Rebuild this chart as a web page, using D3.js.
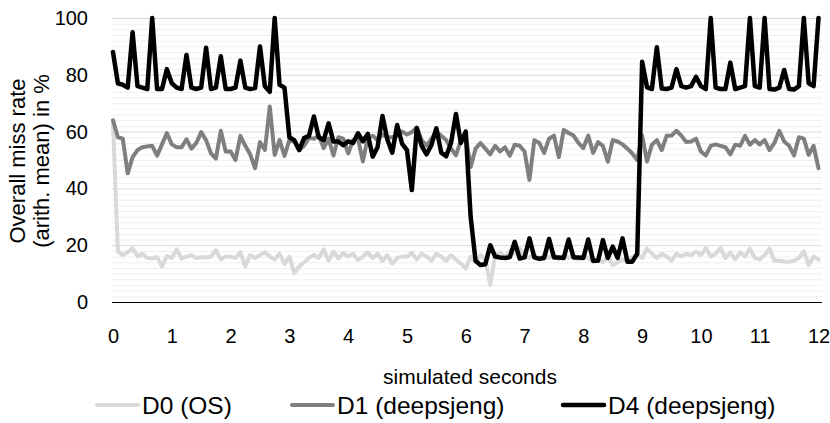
<!DOCTYPE html>
<html>
<head>
<meta charset="utf-8">
<script src="https://cdn.jsdelivr.net/npm/d3@7"></script>
<style>
  html, body { margin: 0; padding: 0; background: #ffffff; }
  svg { display: block; font-family: "Liberation Sans", Arial, Helvetica, sans-serif; }
</style>
</head>
<body>
<svg id="chart" width="830" height="423"></svg>
<script>
// ---- data ----
const sampleInterval = 1 / 12; // seconds between samples
const xTickLabels = [0, 1, 2, 3, 4, 5, 6, 7, 8, 9, 10, 11, 12];
const yTickLabels = [0, 20, 40, 60, 80, 100];
const seriesNames = ["D0 (OS)", "D1 (deepsjeng)", "D4 (deepsjeng)"];

const d0 = [63, 17.7, 16.5, 17.5, 18.9, 16, 17, 15.5, 15.3, 15.8, 12.5, 16.2, 15.5, 18.5, 15.3, 16, 16.5, 15.5, 15.8, 15.7,
  16, 18.3, 15, 16, 16, 15.5, 17.5, 12.6, 16.5, 15.5, 16.5, 17.5, 16, 15, 17, 13.4, 16, 10.1, 12.5, 14,
  15.5, 16.6, 15.5, 18.5, 14.5, 17.8, 15.3, 17.3, 16, 17, 14.8, 16, 17.5, 15.5, 17, 14.5, 16.5, 13.5, 15.5, 16,
  16, 17.3, 15, 17, 16, 14.5, 17, 16, 14.5, 16.5, 15, 13.5, 11.8, 16, 14, 16.5, 15, 6, 16.5, 17.5,
  16, 18, 17, 18.8, 16, 15.5, 17, 15, 16.5, 15.5, 17, 15, 16.5, 15.5, 16.5, 15, 16.5, 15.5, 14, 15,
  14, 16, 13, 14, 15, 14.5, 15.8, 16.5, 15.5, 18.8, 17, 15.5, 17, 16, 14.5, 17, 16, 17, 16.5, 17.8,
  16.5, 19, 16, 17, 19, 15.5, 17.5, 15, 17.5, 16, 18.8, 15.5, 15, 16.5, 18.8, 14.5, 14.5, 14.3, 14.2, 14.5,
  15.5, 17.8, 13, 16, 15];

const d1 = [64, 58, 57.5, 45.3, 51, 53.5, 54.5, 54.8, 55, 51.5, 55.5, 59.5, 55.5, 54.5, 54.5, 57.3, 54, 56, 59.8, 57,
  52.3, 50.5, 60.3, 53, 53, 50, 58.5, 55, 52, 47.1, 56.3, 53.5, 68.8, 51.8, 57, 51.4, 57, 56.5, 53.5, 55,
  57.8, 57.5, 58.6, 54.2, 57.5, 51.6, 58, 57.5, 52.3, 57, 57.5, 49.5, 58, 58.5, 57, 59, 58, 58, 58.5, 60,
  59, 59.8, 61.5, 57, 55, 57.5, 60, 58.5, 57, 54, 51.6, 57, 58.5, 47.5, 54, 56, 54, 52, 55, 53,
  54.5, 51.5, 55.4, 55, 53, 43, 57, 56, 52.5, 57.5, 58.6, 51, 60.6, 59.5, 58.6, 56, 54.2, 58.6, 52.5, 56.3,
  55, 49.4, 57, 56.5, 55.5, 54, 52.3, 50, 58.6, 49.5, 55.4, 57, 53.5, 58.5, 58.6, 60.3, 58.6, 56.3, 56.5, 57.5,
  53, 51.6, 55, 55.5, 55, 54.5, 52, 55.4, 55, 58.5, 55.4, 57, 55.5, 57, 53.5, 56, 60.3, 56.5, 55, 51.6,
  58, 57.5, 51.8, 55, 47.1];

const d4 = [88, 77, 76.5, 75.5, 95, 76, 75.5, 75, 100, 75, 75, 82, 77, 75.5, 75, 87, 75.5, 75, 75.5, 89.5,
  75, 75.5, 86.5, 75, 75, 75.5, 85, 75.5, 75, 75.3, 90, 76, 74, 100, 76.5, 75.5, 58, 57, 53.5, 57.7,
  58.5, 65.3, 58, 57, 62.9, 56.5, 56.5, 55.2, 56.6, 56, 59.4, 56.6, 59.2, 51.2, 54.5, 65.5, 57.2, 52.6, 62.3, 55.8,
  53.5, 39.4, 61.2, 55, 52, 55.3, 61.2, 52.6, 51.3, 56, 66.2, 56, 60, 30, 14.5, 13, 13.3, 20, 16, 15.7,
  15.5, 15.8, 21.2, 15.3, 15.7, 22.4, 15.7, 15.2, 15.5, 22.2, 15.7, 15.7, 15.5, 22, 15.7, 15.7, 15.5, 22, 14.5, 14.5,
  21.8, 15.5, 19.5, 15.5, 22.4, 14.2, 14.2, 17, 84.6, 75.6, 75, 89.7, 75.2, 75, 75.5, 82, 76, 75.5, 76, 79.3,
  76, 75, 100, 75.5, 75, 75, 84.3, 75, 75.5, 76, 100, 76, 75.5, 100, 75, 74.8, 75.5, 81.7, 75, 74.8,
  76, 100, 77, 76, 100];

const seriesColors = ["#d9d9d9", "#7f7f7f", "#000000"];
const seriesWidths = [4, 4, 4.5];

// ---- layout ----
const svg = d3.select("#chart");
const plotLeft = 112, plotRight = 822, plotTop = 18, plotBottom = 302;
const FONT = "'Liberation Sans', Arial, sans-serif";

const x = d3.scaleLinear().domain([0, 12]).range([113, 818.5]);
const y = d3.scaleLinear().domain([0, 100]).range([plotBottom, plotTop]);

// minor gridlines
const minorTicks = d3.range(0, 101, 2).filter(v => v % 20 !== 0);
svg.append("g").selectAll("line").data(minorTicks).join("line")
  .attr("x1", plotLeft).attr("x2", plotRight)
  .attr("y1", d => y(d) + 0.5).attr("y2", d => y(d) + 0.5)
  .attr("stroke", "#efefef").attr("stroke-width", 1);

// major gridlines
svg.append("g").selectAll("line").data(yTickLabels.filter(v => v > 0)).join("line")
  .attr("x1", plotLeft).attr("x2", plotRight)
  .attr("y1", d => y(d) + 0.5).attr("y2", d => y(d) + 0.5)
  .attr("stroke", "#d9d9d9").attr("stroke-width", 1);

// y axis labels
const yAxis = d3.axisLeft(y).tickValues(yTickLabels).tickSize(0).tickPadding(0);
svg.append("g").attr("transform", `translate(88,0)`).call(yAxis)
  .call(g => g.select(".domain").remove())
  .call(g => g.selectAll("text").attr("font-size", 20).attr("fill", "#000").attr("font-family", FONT));

// x axis labels
const xAxis = d3.axisBottom(x).tickValues(xTickLabels).tickSize(0).tickPadding(0).tickFormat(d3.format("d"));
svg.append("g").attr("transform", `translate(0,${plotBottom})`).call(xAxis)
  .call(g => g.select(".domain").remove())
  .call(g => g.selectAll("text").attr("font-size", 20).attr("fill", "#000")
    .attr("y", 41).attr("dy", null).attr("font-family", FONT));

svg.append("line")
  .attr("x1", plotLeft).attr("x2", plotRight)
  .attr("y1", plotBottom + 0.5).attr("y2", plotBottom + 0.5)
  .attr("stroke", "#000").attr("stroke-width", 1.2);

// series
const allSeries = [d0, d1, d4];
const line = d3.line().x((d, i) => x(i * sampleInterval)).y(d => y(d));
allSeries.forEach((s, k) => {
  svg.append("path").datum(s)
    .attr("d", line)
    .attr("fill", "none")
    .attr("stroke", seriesColors[k])
    .attr("stroke-width", seriesWidths[k])
    .attr("stroke-linejoin", "round")
    .attr("stroke-linecap", "round");
});

// axis titles
svg.append("text").attr("x", 470).attr("y", 384).attr("text-anchor", "middle")
  .attr("font-size", 21).attr("fill", "#000").text("simulated seconds");

const yt = svg.append("g").attr("transform", "translate(0,161) rotate(-90)");
yt.append("text").attr("x", 0).attr("y", 25).attr("text-anchor", "middle")
  .attr("font-size", 22).attr("fill", "#000").text("Overall miss rate");
yt.append("text").attr("x", 0).attr("y", 49).attr("text-anchor", "middle")
  .attr("font-size", 22).attr("fill", "#000").text("(arith. mean) in %");

// legend
const legendX = [97, 292, 563];
const legend = svg.append("g");
seriesNames.forEach((name, k) => {
  const g = legend.append("g").attr("transform", `translate(${legendX[k]},405)`);
  g.append("line").attr("x1", 0).attr("x2", 41).attr("y1", 0).attr("y2", 0)
    .attr("stroke", seriesColors[k]).attr("stroke-width", seriesWidths[k]).attr("stroke-linecap", "round");
  g.append("text").attr("x", 45).attr("y", 0).attr("dy", "0.35em")
    .attr("font-size", 24.5).attr("fill", "#000").text(name);
});
</script>
</body>
</html>
